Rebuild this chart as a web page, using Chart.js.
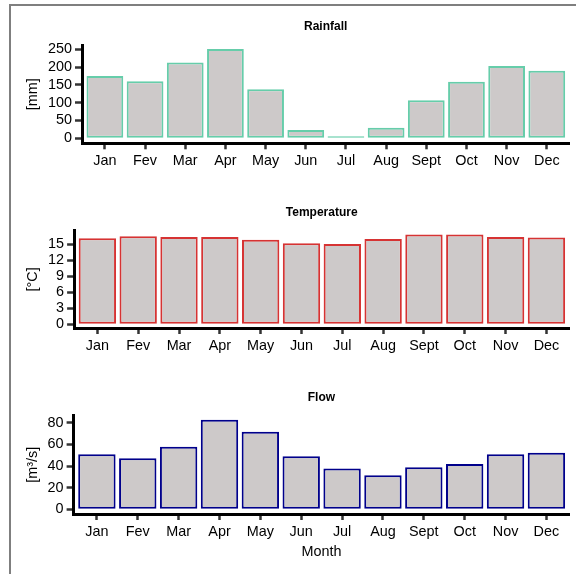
<!DOCTYPE html>
<html><head><meta charset="utf-8">
<script src="https://cdn.jsdelivr.net/npm/chart.js@4.4.0/dist/chart.umd.min.js"></script>
<style>
html,body{margin:0;padding:0;background:#fff;width:576px;height:574px;overflow:hidden;}
#frame{position:absolute;left:9px;top:4px;width:620px;height:620px;border-top:2px solid #7f7f7f;border-left:2px solid #7f7f7f;}
canvas{position:absolute;left:0;}
</style></head><body>
<div id="frame"></div>
<canvas id="c1" width="576" height="186" style="top:0px"></canvas>
<canvas id="c2" width="576" height="184" style="top:190px"></canvas>
<canvas id="c3" width="576" height="200" style="top:374px"></canvas>
<script>
const months = ['Jan','Fev','Mar','Apr','May','Jun','Jul','Aug','Sept','Oct','Nov','Dec'];
const rainfall = [175,160,213,251,138,23,6,30,107,159,203,190];
const temperature = [16.2,16.55,16.4,16.4,15.9,15.25,15.1,16.05,16.9,16.9,16.4,16.3];
const flow = [51,47.3,57.8,82.8,71.7,49.1,37.7,31.5,38.9,42,51,52.2];
const rainTicks = [0,50,100,150,200,250];
const tempTicks = [0,3,6,9,12,15];
const flowTicks = [0,20,40,60,80];

Chart.defaults.font.family = "'Liberation Sans', Arial, sans-serif";
Chart.defaults.color = '#000';

function makeChart(id, p) {
  const ctx = document.getElementById(id);
  return new Chart(ctx, {
    type: 'bar',
    data: {
      datasets: [{
        data: p.values.map((v, i) => ({x: i, y: v})),
        backgroundColor: '#CDC9C9',
        borderColor: p.color,
        borderWidth: 2,
        borderSkipped: false,
        barPercentage: 0.915,
        categoryPercentage: 1
      }]
    },
    options: {
      responsive: false,
      animation: false,
      devicePixelRatio: 1,
      layout: {padding: {left: 24.3, right: 6.7, top: 0, bottom: p.padBottom}},
      plugins: {
        legend: {display: false},
        tooltip: {enabled: false},
        title: {
          display: true, text: p.title, fullSize: false,
          font: {size: 12, weight: 'bold'}, color: '#000',
          padding: {top: p.titleTop, bottom: p.titleBottom}
        }
      },
      scales: {
        x: {
          type: 'linear', min: -0.57, max: 11.56, offset: false,
          afterBuildTicks: s => { s.ticks = months.map((m, i) => ({value: i})); },
          afterFit: s => { s.height = p.xHeight; },
          grid: {display: true, offset: false, drawOnChartArea: false, drawTicks: true, tickLength: 6, tickWidth: 2.5, tickColor: '#333', color: '#333'},
          border: {display: true, color: '#000', width: 3},
          ticks: {autoSkip: false, maxRotation: 0, padding: 3, font: {size: 14.4}, color: '#000',
                  callback: (v, i) => months[i]},
          title: p.xTitle ? {display: true, text: p.xTitle, font: {size: 14.4}, color: '#000', padding: {top: 0, bottom: 1.6}} : {display: false}
        },
        y: {
          type: 'linear', min: p.ymin, max: p.ymax,
          afterBuildTicks: s => { s.ticks = p.ticks.map(v => ({value: v})); },
          afterFit: s => { s.width = p.yWidth; },
          grid: {display: true, drawOnChartArea: false, drawTicks: true, tickLength: 7, tickWidth: 2.5, tickColor: '#333', color: '#333'},
          border: {display: true, color: '#000', width: 3},
          ticks: {autoSkip: false, padding: 3, font: {size: 14.4}, color: '#000'},
          title: {display: true, text: p.yTitle, font: {size: 14.4}, color: '#000', padding: 0}
        }
      }
    }
  });
}

makeChart('c1', {title: 'Rainfall', values: rainfall, ticks: rainTicks, ymin: -14, ymax: 262,
  color: '#66CDAA', yTitle: '[mm]', yWidth: 57.7, titleTop: 19.5, titleBottom: 11.1, xHeight: 40, padBottom: 2.7});
makeChart('c2', {title: 'Temperature', values: temperature, ticks: tempTicks, ymin: -0.7, ymax: 17.6,
  color: '#D63333', yTitle: '[°C]', yWidth: 49.8, titleTop: 15.5, titleBottom: 10.8, xHeight: 40, padBottom: 6});
makeChart('c3', {title: 'Flow', values: flow, ticks: flowTicks, ymin: -4.3, ymax: 86.5,
  color: '#00008B', yTitle: '[m³/s]', yWidth: 49.3, titleTop: 16.5, titleBottom: 10.8, xHeight: 48, padBottom: 12, xTitle: 'Month'});
</script>
</body></html>
